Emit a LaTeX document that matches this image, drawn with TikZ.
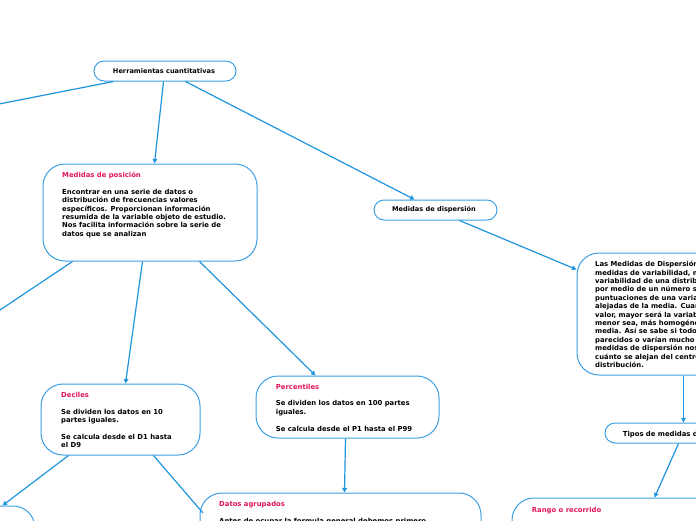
\documentclass[tikz,border=0pt]{standalone}
\usepackage{fontspec}
\setmainfont{DejaVu Sans}
\usetikzlibrary{calc,arrows.meta}
\definecolor{bord}{HTML}{3DA0E3}
\definecolor{conn}{HTML}{1E95DD}
\definecolor{ttl}{HTML}{E3135E}
\newcommand\topst{\rule{0pt}{6pt}}
\tikzset{
  box/.style={draw=bord, line width=1pt, fill=white, rounded corners=#1, inner sep=0pt},
  box/.default=10pt,
  txt/.style={font=\fontsize{6.85}{8.4}\selectfont\bfseries, align=left, inner sep=0pt, anchor=north west},
  ctxt/.style={font=\fontsize{6.6}{8.4}\selectfont\bfseries, inner sep=0pt},
  arr/.style={draw=conn, line width=1.2pt, -{Triangle[length=4.5pt,width=4.5pt]}},
  plain/.style={draw=conn, line width=1.2pt}
}
\begin{document}
\begin{tikzpicture}[x=1pt,y=-1pt]
\useasboundingbox (0,0) rectangle (696,520);
\fill[white] (0,0) rectangle (696,520);
\clip (0,0) rectangle (696,520);

% free ends
\coordinate (lft1) at (-6,105);
\coordinate (lft2) at (-6,314);
\coordinate (datin) at (203,513);

% boxes
\node[box, minimum width=142pt, minimum height=20pt] (herr) at (165,71) {};
\node[box=22pt, minimum width=214pt, minimum height=97pt] (pos) at (150,212.5) {};
\node[box, minimum width=123pt, minimum height=20pt] (disp) at (435.5,210) {};
\node[box=22pt, minimum width=153pt, minimum height=122pt] (dbox) at (653.5,314) {};
\node[box, minimum width=160pt, minimum height=20pt] (tipos) at (685,433) {};
\node[box=22pt, minimum width=250pt, minimum height=100pt] (rango) at (637,548) {};
\node[box=22pt, minimum width=159pt, minimum height=71pt] (dec) at (120.5,419.5) {};
\node[box=22pt, minimum width=183pt, minimum height=62pt] (perc) at (347.5,407) {};
\node[box=22pt, minimum width=281pt, minimum height=100pt] (datos) at (340.5,543) {};
\node[box=22pt, minimum width=120pt, minimum height=100pt] (bl) at (-25,556) {};

% texts
\node[ctxt] (herrt) at (164,71) {Herramientas cuantitativas};
\node[ctxt] (dispt) at (434,210) {Medidas de dispersión};
\node[txt] (tipost) at (622.7,429.8) {\topst Tipos de medidas de dispersión};

\node[txt] (post) at (62,171.2) {\topst{\color{ttl}Medidas de posición}\\[8.4pt]
Encontrar en una serie de datos o\\
distribución de frecuencias valores\\
específicos. Proporcionan información\\
resumida de la variable objeto de estudio.\\
Nos facilita información sobre la serie de\\
datos que se analizan};

\node[txt] (dboxt) at (595,260.5) {\topst Las Medidas de Dispersión son\\
medidas de variabilidad, muestran\\
variabilidad de una distribución,\\
por medio de un número si las\\
puntuaciones de una variable\\
alejadas de la media. Cuanto\\
valor, mayor será la variabilidad\\
menor sea, más homogénea\\
media. Así se sabe si todos\\
parecidos o varían mucho entre\\
medidas de dispersión nos\\
cuánto se alejan del centro\\
distribución.};

\node[txt] (dect) at (61,391.2) {\topst{\color{ttl}Deciles}\\[8.4pt]
Se dividen los datos en 10\\
partes iguales.\\[8.4pt]
Se calcula desde el D1 hasta\\
el D9};

\node[txt] (perct) at (275.7,382.8) {\topst{\color{ttl}Percentiles}\\[8.4pt]
Se dividen los datos en 100 partes\\
iguales.\\[8.4pt]
Se calcula desde el P1 hasta el P99};

\node[txt] (datost) at (219,500.5) {\topst{\color{ttl}Datos agrupados}\\[8.4pt]
Antes de ocupar la formula general debemos primero};

\node[txt] (rangot) at (531.7,505.8) {\topst\color{ttl}Rango o recorrido};

% connectors
\draw[plain] ($(herr.south west)+(20,0)$) -- (lft1);
\draw[arr] ($(herr.south west)+(70,0)$) -- ($(pos.north west)+(112,0)$);
\draw[arr] ($(herr.south west)+(92,0)$) -- ($(disp.north west)+(41,0)$);
\draw[arr] ($(disp.south west)+(86,0)$) -- ($(dbox.north west)+(0,17)$);
\draw[arr] ($(dbox.south west)+(107,0)$) -- ($(tipos.north west)+(79,0)$);
\draw[arr] ($(tipos.south west)+(74,0)$) -- ($(rango.north west)+(143,0)$);
\draw[plain] ($(pos.south west)+(30,0)$) -- (lft2);
\draw[arr] ($(pos.south west)+(100,0)$) -- ($(dec.north west)+(85,0)$);
\draw[arr] ($(pos.south west)+(157,0)$) -- ($(perc.north west)+(60,0)$);
\draw[arr] ($(perc.south west)+(90,0)$) -- ($(datos.north west)+(145,0)$);
\draw[arr] ($(dec.south west)+(28,0)$) -- ($(bl.north east)+(-33,0)$);
\draw[plain] ($(dec.south west)+(113,0)$) -- (datin);
\end{tikzpicture}
\end{document}
